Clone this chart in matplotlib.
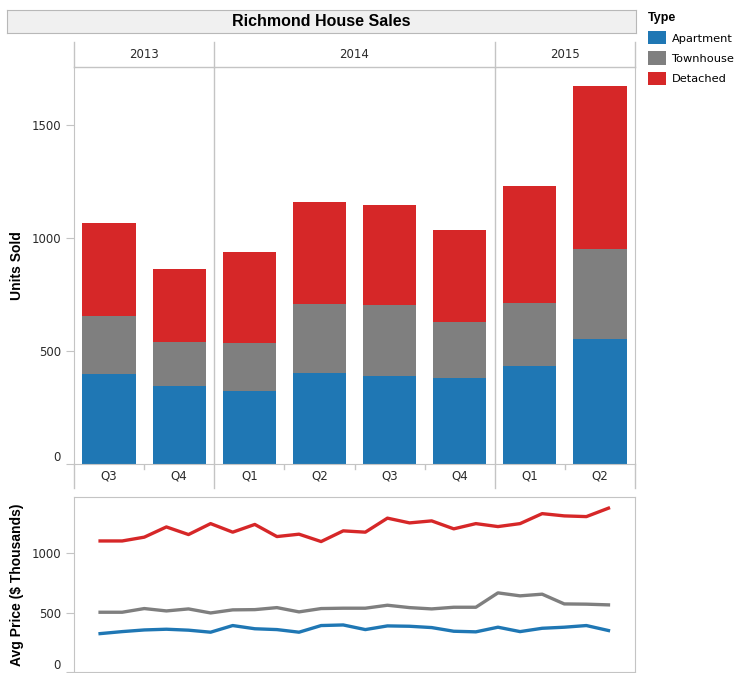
import matplotlib.pyplot as plt
import numpy as np

plt.rcParams['font.family'] = ['DejaVu Sans']

# quarterly units sold (stacked)
years = ['2013', '2014', '2015']
quarters = ['Q3', 'Q4', 'Q1', 'Q2', 'Q3', 'Q4', 'Q1', 'Q2']
apartment = [398, 345, 323, 403, 389, 381, 434, 553]
townhouse = [257, 195, 212, 305, 315, 247, 278, 398]
detached = [411, 323, 403, 451, 442, 407, 518, 722]

# monthly average price, Jul 2013 - Jun 2015 ($ thousands)
price_apartment = [323, 340, 354, 360, 352, 335, 391, 364, 357, 335, 391, 396,
                   357, 388, 385, 374, 343, 338, 377, 340, 368, 377, 391, 349]
price_townhouse = [503, 503, 534, 514, 531, 497, 523, 525, 542, 506, 534, 537,
                   537, 562, 542, 531, 545, 545, 666, 641, 655, 573, 571, 565]
price_detached = [1103, 1103, 1135, 1221, 1157, 1249, 1177, 1242, 1140, 1160, 1098, 1188,
                  1177, 1295, 1255, 1272, 1205, 1249, 1224, 1249, 1333, 1314, 1308, 1379]

types = ['Apartment', 'Townhouse', 'Detached']
colors = ['#1f77b4', '#7f7f7f', '#d62728']
line_col = '#c4c4c4'
txt_col = '#2a2a2a'
bold_font = ['Liberation Sans', 'DejaVu Sans']

W, H = 737, 673
fig = plt.figure(figsize=(W / 100, H / 100), dpi=100)

def box(x0, y0, x1, y1):
    # pixel box (top-left origin) -> figure fraction rect
    return [x0 / W, 1 - y1 / H, (x1 - x0) / W, (y1 - y0) / H]

L, R = 74, 635

# title bar
tax = fig.add_axes(box(7, 10, 636, 33))
tax.set_facecolor('#f0f0f0')
tax.set_xticks([]); tax.set_yticks([])
for s in tax.spines.values():
    s.set_color('#b8b8b8')
tax.text(0.5, 0.5, 'Richmond House Sales', ha='center', va='center', family=bold_font,
         fontsize=11.5, fontweight='bold', color='black', transform=tax.transAxes)

x = np.arange(len(quarters))
dividers = [-0.5, 1.5, 5.5, 7.5]
centers = [0.5, 3.5, 6.5]

# stacked bars
ax = fig.add_axes(box(L, 67, R, 464))
bottom = np.zeros(len(x))
for vals, col, name in zip([apartment, townhouse, detached], colors, types):
    ax.bar(x, vals, width=0.76, bottom=bottom, color=col, label=name)
    bottom += np.array(vals)
ax.set_xlim(-0.5, 7.5)
ax.set_ylim(0, 1757)
ax.set_xticks([])
ax.set_yticks([0, 500, 1000, 1500])
ax.tick_params(axis='y', colors=line_col, labelcolor=txt_col, labelsize=8.5, length=6)
ax.spines['top'].set_visible(False)
for s in ['left', 'right', 'bottom']:
    ax.spines[s].set_color(line_col)
for d in [1.5, 5.5]:
    ax.axvline(d, color=line_col, lw=1)
ax.get_yticklabels()[0].set_va('bottom')
ax.set_ylabel('Units Sold', family=bold_font, fontsize=10, fontweight='bold',
              color='black', labelpad=5)

# year header (drawn on top of the bar axes)
hax = fig.add_axes(box(L, 42, R, 67), zorder=3)
hax.patch.set_alpha(0)
hax.set_xlim(-0.5, 7.5); hax.set_ylim(0, 1)
hax.axis('off')
hax.plot([-0.5, 7.5], [0, 0], color=line_col, lw=1, clip_on=False)
for d in dividers:
    hax.plot([d, d], [0, 1], color=line_col, lw=1, clip_on=False)
for c, yr in zip(centers, years):
    hax.text(c, 0.5, yr, ha='center', va='center', fontsize=8.5, color=txt_col)

# quarter labels row
qax = fig.add_axes(box(L, 464, R, 488))
qax.set_xlim(-0.5, 7.5); qax.set_ylim(0, 1)
qax.axis('off')
for d in dividers:
    qax.plot([d, d], [0, 1], color=line_col, lw=1, clip_on=False)
for b in [0.5, 2.5, 3.5, 4.5, 6.5]:
    qax.plot([b, b], [1, 0.78], color=line_col, lw=1)
for xi, q in zip(x, quarters):
    qax.text(xi, 0.5, q, ha='center', va='center', fontsize=8.5, color=txt_col)

# average price lines
pax = fig.add_axes(box(L, 497, R, 672))
m = np.arange(len(price_detached))
for vals, col in zip([price_apartment, price_townhouse, price_detached], colors):
    pax.plot(m, vals, color=col, lw=2.4)
pax.set_xlim(-1.18, 24.2)
pax.set_ylim(0, 1473)
pax.set_xticks([])
pax.set_yticks([0, 500, 1000])
pax.tick_params(axis='y', colors=line_col, labelcolor=txt_col, labelsize=8.5, length=6)
for s in pax.spines.values():
    s.set_color(line_col)
pax.get_yticklabels()[0].set_va('bottom')
pax.set_ylabel('Avg Price ($ Thousands)', family=bold_font, fontsize=10, fontweight='bold',
               color='black', labelpad=5)

# legend
handles, labels = ax.get_legend_handles_labels()
leg = fig.legend(handles, labels, title='Type', loc='upper left',
                 bbox_to_anchor=(647 / W, 1 - 11 / H), frameon=False,
                 fontsize=8.2, handlelength=1.6, handleheight=1.45,
                 handletextpad=0.45, labelspacing=0.6, borderaxespad=0,
                 borderpad=0.1)
leg.get_title().set_fontweight('bold')
leg.get_title().set_fontsize(9)
leg.get_title().set_family(bold_font)
leg._legend_box.align = 'left'

fig.savefig('out.png', dpi=100)
